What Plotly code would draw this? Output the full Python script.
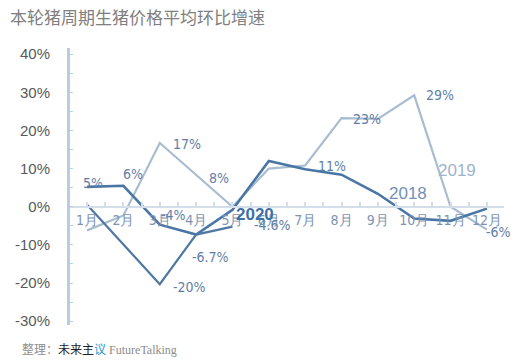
import plotly.graph_objects as go

months = ["1月", "2月", "3月", "4月", "5月", "6月", "7月", "8月", "9月", "10月", "11月", "12月"]
s2018 = [5.2, 5.5, -4.7, -7.3, -0.8, 12.0, 9.8, 8.4, 3.4, -3.1, -3.7, -0.5]
s2019 = [-6.2, -2.3, 16.7, 8.4, 0.0, 10.0, 10.8, 23.2, 23.0, 29.2, 0.0, -6.0]
s2020 = [0.5, -9.8, -20.3, -7.3, -5.2]

label_text = ["5%", "6%", "17%", "8%", "-4%", "-6.7%", "-20%", "-4.6%", "11%", "23%", "29%", "-6%"]
label_x = [0.17, 1.27, 2.75, 3.64, 2.37, 3.39, 2.81, 5.10, 6.75, 7.71, 9.72, 11.32]
label_y = [6.3, 8.6, 16.4, 7.6, -2.1, -13.3, -21.1, -4.9, 10.7, 22.9, 29.2, -6.5]

yticks = [40, 30, 20, 10, 0, -10, -20, -30]

xs = list(range(len(months)))
fig = go.Figure()
fig.add_trace(go.Scatter(x=xs, y=s2019, mode="lines", line=dict(color="#a9bdd1", width=2.2), showlegend=False))
fig.add_trace(go.Scatter(x=xs, y=s2018, mode="lines", line=dict(color="#4a76a6", width=2.6), showlegend=False))
fig.add_trace(go.Scatter(x=xs[:len(s2020)], y=s2020, mode="lines", line=dict(color="#4f79a3", width=2.2), showlegend=False))

pct_font = dict(family="DejaVu Sans Condensed, Liberation Sans Narrow, sans-serif", size=14, color="#5f7ea6")
for t, x, y in zip(label_text, label_x, label_y):
    fig.add_annotation(x=x, y=y, text=t, showarrow=False, font=pct_font)

fig.add_annotation(x=10.19, y=9.6, text="2019", showarrow=False,
                   font=dict(family="Liberation Sans, Arial, sans-serif", size=17, color="#9fb4cc"))
fig.add_annotation(x=8.82, y=3.4, text="2018", showarrow=False,
                   font=dict(family="Liberation Sans, Arial, sans-serif", size=17, color="#7390b6"))
fig.add_annotation(x=4.63, y=-2.1, text="<b>2020</b>", showarrow=False,
                   font=dict(family="Liberation Sans, Arial, sans-serif", size=17, color="#3d6fa4"))

fig.update_layout(
    width=531, height=362,
    margin=dict(l=70, r=27, t=48, b=37, autoexpand=False),
    paper_bgcolor="white", plot_bgcolor="white",
    title=dict(text="本轮猪周期生猪价格平均环比增速", x=10/531, xanchor="left", y=1-18/362, yanchor="middle",
               font=dict(family="Noto Sans CJK SC", size=17, color="#7f7f7f")),
    xaxis=dict(range=[-0.47, 11.47], tickvals=xs, ticktext=months, anchor="free", automargin=False,
               position=31/72.6, showline=True, linecolor="#d3deea", linewidth=2,
               ticks="inside", ticklen=4, tickcolor="#d3deea", tickwidth=1.5,
               minor=dict(dtick=0.5, tick0=0.5, ticks="inside", ticklen=4, tickcolor="#d3deea"),
               showgrid=False, zeroline=False,
               tickfont=dict(family="DejaVu Sans Condensed, Liberation Sans Narrow, sans-serif", size=14, color="#7d93b2"),
               ticklabelstandoff=0),
    yaxis=dict(range=[-31, 41.6], tickvals=yticks, ticktext=[f"{v}%" for v in yticks], automargin=False,
               showline=True, linecolor="#b9cde1", linewidth=3, showgrid=False, zeroline=False,
               ticks="inside", ticklen=3, tickcolor="#b9cde1",
               minor=dict(dtick=5, ticks="inside", ticklen=3, tickcolor="#b9cde1"),
               tickfont=dict(family="Liberation Sans, Arial, sans-serif", size=15, color="#595959"),
               ticklabelstandoff=14),
)

fig.add_annotation(xref="paper", yref="paper", x=(20 - 70) / 434, y=-(348 - 325) / 277, xanchor="left", yanchor="middle",
                   showarrow=False,
                   text=("<span style='color:#8c8c8c'>整理：</span>"
                         "<span style='color:#222222'>未来主</span>"
                         "<span style='color:#1a9ad6'>议</span>"
                         "<span style='color:#8c8c8c;font-family:Liberation Serif'> FutureTalking</span>"),
                   font=dict(family="Noto Sans CJK SC", size=12))

fig.write_html("out.html", config={"displayModeBar": False},
               post_script="document.body.style.margin='0';")
